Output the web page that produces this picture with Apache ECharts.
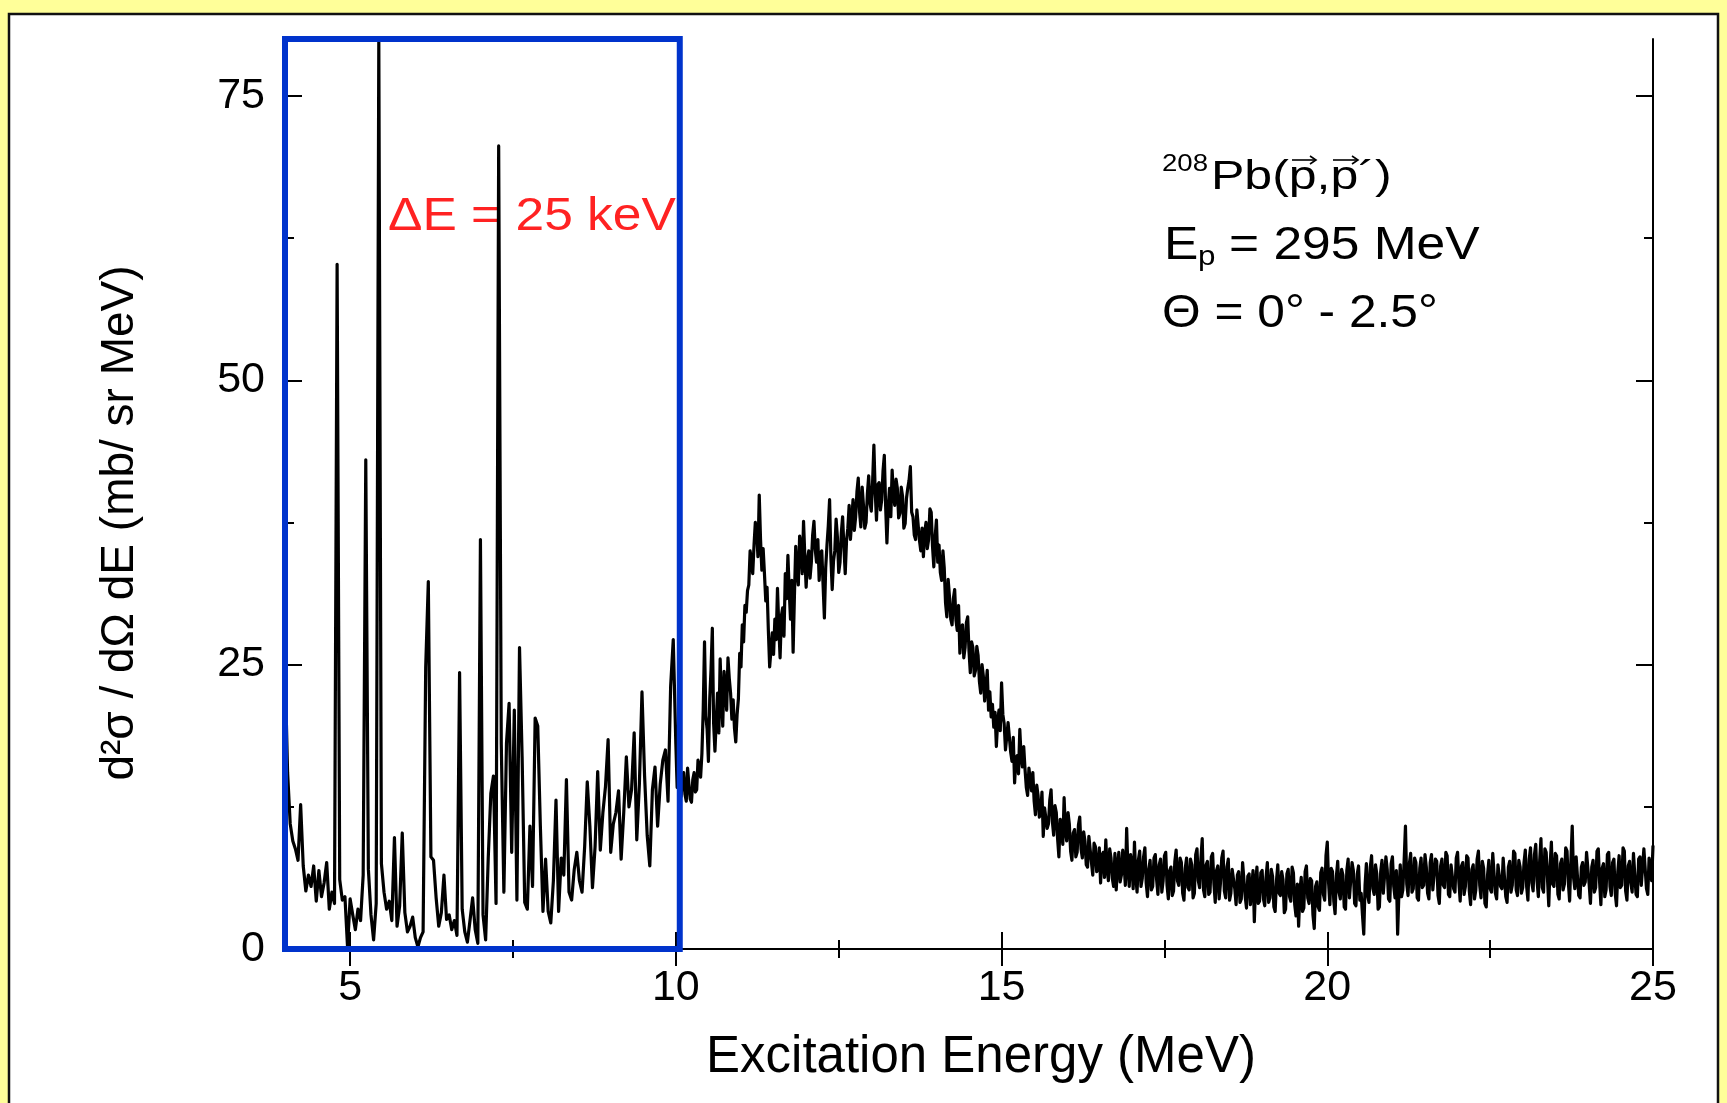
<!DOCTYPE html>
<html><head><meta charset="utf-8">
<script src="https://cdn.jsdelivr.net/npm/echarts@6/dist/echarts.min.js"></script>
<style>html,body{margin:0;padding:0;background:#FFFF99;} #c{width:1727px;height:1103px;}</style>
</head><body><div id="c"></div>
<script>
// ---- Data ----
// Discrete-state region: bins of 0.04 MeV starting at 4.00 MeV (one array per MeV).
const lowStart = 4.0;
const lowStep = 0.04;
const cs04 = [25,15.5,11,9.5,8.8,7.8,12.7,7.3,5.1,6.5,5.5,7.3,4.2,6.9,4.6,5.8,7.6,3.5,5.0,4.0,60.2,6.1,4.3,4.6,0.2];
const cs05 = [4.4,3.0,1.7,3.5,2.5,6.5,43,7.0,3.0,0.8,4.0,80,7.5,5.0,3.5,4.2,2.5,9.8,2.0,3.8,10.2,3.2,1.5,2.0,2.8];
const cs06 = [1.0,0.2,1.0,1.5,24.8,32.3,8.1,7.8,4.5,2.0,3.2,6.5,2.6,3.0,1.7,2.5,1.2,24.3,3.5,1.5,0.6,2.5,4.5,1.7,0.5];
const cs07 = [36,3.0,0.8,8.0,13.7,15.2,4.0,70.6,18,5.0,18.1,21.6,8.5,21.0,4.3,26.5,16.9,4.1,3.5,10.8,5.5,20.3,19.6,10.8,3.3];
const cs08 = [7.9,3.3,2.3,6.0,13.1,3.3,8.0,6.5,14.9,5.0,4.3,7.0,8.5,6.0,5.0,9.0,14.7,10.8,5.4,9.0,15.6,8.7,12.0,14.3,18.4];
const cs09 = [8.5,11.0,12.0,13.9,7.9,12.0,16.9,12.5,14.0,19.0,9.6,14.5,22.6,15.2,10.0,7.3,14.0,16.0,10.8,14.5,16.6,17.5,13.0,23.1,27.2];

// Continuum region: bins of 0.02 MeV starting at 10.00 MeV (one array per MeV).
const highStart = 10.0;
const highStep = 0.02;
const cs10 = [18,14.2,15.0,16.4,13.4,14.8,15.5,13.6,13.0,15.9,14.5,13.2,12.9,14.9,15.5,13.8,14.0,16.6,16.0,15.1,17.2,21.0,27.0,20.5,19.3,16.5,22.0,24.6,28.2,19.8,17.4,20.1,22.5,19.0,25.5,21.8,19.6,24.4,23.0,21.0,25.6,23.8,22.5,20.2,21.9,19.4,18.2,20.6,22.0,26.0];
const cs11 = [24.8,28.5,27.0,30.2,29.6,31.5,32.0,35.0,34.2,33.0,35.5,37.5,36.8,34.5,39.9,36.0,33.3,35.2,33.0,30.6,31.8,28.0,24.8,26.3,27.8,25.9,29.0,27.2,31.7,28.4,25.6,29.3,30.0,27.5,33.0,30.8,34.6,31.5,29.0,32.4,26.1,31.0,35.4,33.2,32.0,36.3,35.5,33.0,37.6,34.5];
const cs12 = [31.8,34.2,35.0,32.6,34.0,36.4,37.6,35.1,34.0,36.0,32.4,34.8,35.0,32.0,29.1,33.5,35.5,37.2,39.5,34.4,31.6,34.1,35.0,37.8,36.2,33.1,34.0,36.6,38.0,35.3,33.0,35.9,37.0,39.0,36.0,37.7,39.5,36.8,38.0,40.2,41.4,38.4,37.1,40.6,39.0,37.0,37.5,40.0,41.6,39.2];
const cs13 = [38.5,41.0,44.3,40.2,37.7,40.8,41.0,38.6,39.5,42.0,43.4,39.0,35.7,38.8,40.5,38.0,42.1,40.0,39.0,41.3,40.5,37.9,38.3,40.6,39.8,37.0,37.4,39.6,40.5,41.2,42.4,38.4,38.0,36.4,36.0,38.6,38.5,35.9,35.0,37.0,34.5,36.6,37.5,35.2,36.0,38.7,38.4,35.4,33.6,36.2];
const cs14 = [37.7,34.0,35.5,33.1,32.4,35.0,33.5,30.4,29.2,32.5,31.0,29.0,28.5,30.8,31.6,28.9,28.0,30.2,26.0,28.3,28.5,25.6,26.5,28.7,29.2,26.2,24.3,27.0,26.5,24.0,24.5,26.6,25.8,23.5,22.5,25.0,24.0,21.8,23.1,24.5,21.0,22.6,20.4,21.5,19.5,20.8,17.8,20.0,21.0,19.2];
const cs15 = [23.4,20.6,19.8,17.5,18.7,19.9,20.0,17.3,16.5,18.6,14.6,16.8,17.0,15.4,19.3,16.9,16.0,17.8,15.8,14.2,13.5,15.9,16.0,13.9,15.5,13.0,11.8,14.4,13.5,11.6,12.0,13.8,9.9,12.4,12.5,10.6,11.0,13.1,14.0,11.2,10.0,12.6,12.0,9.7,8.1,11.4,10.5,9.2,13.3,10.4];
const cs16 = [9.5,12.0,11.0,8.6,7.8,10.2,10.5,8.1,8.5,10.9,11.6,8.8,8.0,10.3,9.5,7.4,7.2,9.9,9.8,7.6,6.5,9.3,9.0,6.8,7.0,8.9,5.8,8.2,8.5,6.3,9.6,7.1,6.0,8.8,8.0,6.2,5.5,8.4,5.2,7.3,8.5,5.9,6.5,8.7,7.5,5.6,10.6,7.0,5.5,8.3];
const cs17 = [7.5,5.3,9.4,6.4,5.0,7.8,8.6,5.5,6.2,8.1,8.9,5.8,4.6,7.0,7.8,5.2,5.5,8.0,8.3,6.1,4.8,7.4,7.9,5.0,6.0,8.2,8.5,5.6,4.4,6.9,7.2,4.7,5.1,7.7,8.7,6.0,5.6,8.0,7.6,4.9,4.3,7.1,8.0,5.4,5.2,7.9,7.4,4.5,4.9,8.3];
const cs18 = [8.8,6.0,5.4,7.9,9.7,5.2,4.6,7.4,7.7,4.8,5.0,8.1,8.4,5.7,4.1,6.9,7.3,4.4,5.8,8.0,8.6,5.1,4.5,7.2,7.9,4.3,4.9,7.0,7.1,5.3,3.9,6.5,6.8,4.1,4.4,7.6,7.5,4.6,3.6,6.4,6.6,3.9,4.0,6.9,2.4,5.8,7.2,4.0,4.2,6.7];
const cs19 = [6.9,4.4,3.8,6.3,7.6,4.1,4.5,7.0,6.4,3.7,3.3,6.0,7.4,4.9,4.7,6.8,6.1,3.2,3.5,6.6,7.0,4.6,4.2,7.2,6.7,3.9,2.9,5.7,2.0,5.1,6.3,3.3,3.6,6.8,7.3,4.5,4.0,6.2,6.0,3.0,1.8,5.5,5.9,3.7,3.4,6.7,7.1,4.8,4.3,8.2];
const cs20 = [9.4,5.8,3.9,7.1,6.8,4.2,3.1,6.4,7.7,5.0,4.4,7.0,6.5,3.7,3.5,6.9,7.9,4.5,4.6,7.6,6.9,4.0,3.8,6.6,7.3,4.3,4.9,3.0,1.3,5.6,7.5,4.7,4.1,7.2,8.2,5.3,4.8,7.4,6.6,3.5,3.7,6.8,7.8,4.9,5.0,8.1,7.0,4.4,4.2,7.5];
const cs21 = [8.1,5.5,4.5,6.9,1.3,5.0,7.4,4.6,5.2,7.8,10.8,5.7,4.7,7.5,8.4,5.0,5.3,8.0,7.6,4.5,4.3,7.1,8.0,5.4,5.6,8.3,7.2,4.9,4.4,7.6,8.3,5.2,5.1,7.9,7.7,4.7,4.0,7.3,7.9,5.6,5.4,8.5,8.2,4.8,4.6,7.4,7.3,5.3,5.0,8.0];
const cs22 = [8.5,5.9,4.2,7.3,7.6,4.8,5.5,8.2,8.0,5.1,3.9,7.0,7.4,4.4,5.2,7.9,8.6,5.6,4.5,7.7,7.1,4.0,3.7,6.5,7.8,5.3,5.0,8.4,8.3,4.9,4.4,7.4,7.5,5.5,5.3,8.0,8.1,4.6,4.1,7.2,7.7,5.0,5.6,8.6,8.4,5.2,4.7,7.8,7.2,4.9];
const cs23 = [5.4,7.6,8.7,5.5,4.3,7.9,8.9,5.8,5.1,8.3,9.2,6.0,4.6,7.7,9.7,5.4,5.0,8.8,8.5,6.2,3.8,7.3,9.4,5.7,5.5,8.4,8.2,4.8,4.4,7.5,7.9,5.2,5.7,8.9,8.6,5.9,4.2,7.8,10.8,6.3,5.3,8.1,8.0,4.7,4.5,7.2,7.6,5.6,5.9,8.5];
const cs24 = [8.4,5.7,4.0,7.2,7.8,5.0,5.4,8.6,8.8,5.9,3.9,7.1,7.5,4.6,5.2,8.3,8.5,5.5,4.7,7.6,7.9,4.9,3.8,6.8,8.2,5.4,5.6,8.9,8.6,5.1,4.3,7.3,7.7,5.8,5.0,8.4,8.3,4.8,4.6,7.9,8.1,5.6,5.5,8.8,8.7,5.3,4.8,8.0,7.9,6.0];
const cs25 = [9.1];

// Highlight box (blue) in data space
const boxEnergy = [4.0, 10.06];
const boxCross = [0, 80];

// Axis ticks / labels
const xMajorTicks = [5, 10, 15, 20, 25];
const xMinorTicks = [7.5, 12.5, 17.5, 22.5];
const yMajorTicks = [0, 25, 50, 75];
const yMinorTicks = [12.5, 37.5, 62.5];

// ---- Build ----
const spectrum = [];
function addSegment(start, step, rows) {
  let k = 0;
  rows.forEach(r => r.forEach(v => {
    spectrum.push([+(start + k * step).toFixed(2), v]);
    k++;
  }));
}
addSegment(lowStart, lowStep, [cs04, cs05, cs06, cs07, cs08, cs09]);
addSegment(highStart, highStep, [cs10, cs11, cs12, cs13, cs14, cs15, cs16, cs17, cs18, cs19, cs20, cs21, cs22, cs23, cs24, cs25]);

const box = [
  [boxEnergy[0], boxCross[0]], [boxEnergy[1], boxCross[0]],
  [boxEnergy[1], boxCross[1]], [boxEnergy[0], boxCross[1]], [boxEnergy[0], boxCross[0]]
];

const FONT = '"Liberation Sans", Arial, sans-serif';
const lbl = { fontSize: 43, color: '#000', fontFamily: FONT };
function xAx(pos, ticks, len, showLine, extra) {
  return Object.assign({
    type: 'value', min: 4, max: 25, position: pos, splitLine: { show: false },
    axisLine: { show: showLine, lineStyle: { color: '#000', width: 2 } },
    axisTick: { show: true, inside: true, length: len, customValues: ticks, lineStyle: { color: '#000', width: 2 } },
    axisLabel: { show: false }
  }, extra || {});
}
function yAx(pos, ticks, len, showLine, extra) {
  return Object.assign({
    type: 'value', min: 0, max: 80, position: pos, splitLine: { show: false },
    axisLine: { show: showLine, lineStyle: { color: '#000', width: 2 } },
    axisTick: { show: true, inside: true, length: len, customValues: ticks, lineStyle: { color: '#000', width: 2 } },
    axisLabel: { show: false }
  }, extra || {});
}

const chart = echarts.init(document.getElementById('c'), null, { renderer: 'canvas' });
chart.setOption({
  animation: false,
  backgroundColor: '#FFFF99',
  grid: { left: 285, right: 74, top: 39, bottom: 154, containLabel: false },
  xAxis: [
    xAx('bottom', xMajorTicks, 17, true, {
      axisLabel: Object.assign({ show: true, customValues: xMajorTicks, margin: 18 }, lbl),
      name: 'Excitation Energy (MeV)', nameLocation: 'middle', nameGap: 83,
      nameTextStyle: { fontSize: 51, color: '#000', fontFamily: FONT, padding: [0, 0, 0, 24] }
    }),
    xAx('bottom', xMinorTicks, 9, false),
    xAx('top', xMajorTicks, 17, true),
    xAx('top', xMinorTicks, 9, false)
  ],
  yAxis: [
    yAx('left', yMajorTicks, 17, true, {
      axisLabel: Object.assign({ show: true, customValues: yMajorTicks, margin: 20 }, lbl),
      name: 'd\u00B2\u03C3 / d\u03A9 dE (mb/ sr MeV)', nameLocation: 'middle', nameRotate: 90, nameGap: 142,
      nameTextStyle: { fontSize: 46, color: '#000', fontFamily: FONT, padding: [0, 58, 0, 0] }
    }),
    yAx('left', yMinorTicks, 9, false),
    yAx('right', yMajorTicks, 17, true),
    yAx('right', yMinorTicks, 9, false)
  ],
  series: [
    {
      type: 'line', data: spectrum, xAxisIndex: 0, yAxisIndex: 0,
      showSymbol: false, symbol: 'none', clip: true, z: 3,
      lineStyle: { color: '#000', width: 3.2, join: 'round' }
    },
    {
      type: 'line', data: box, xAxisIndex: 0, yAxisIndex: 0,
      showSymbol: false, symbol: 'none', clip: false, z: 5, silent: true,
      lineStyle: { color: '#0033CC', width: 6, join: 'miter', cap: 'square' }
    }
  ],
  graphic: [
    { type: 'rect', z: -10, silent: true, shape: { x: 9, y: 14, width: 1709, height: 1100 },
      style: { fill: '#ffffff', stroke: '#111', lineWidth: 2.5 } },
    { type: 'text', x: 388, y: 217, scaleX: 1.12, z: 1,
      style: { text: '\u0394E = 25 keV', fill: '#FF2222', fontSize: 46, fontFamily: FONT, align: 'left', verticalAlign: 'middle' } },
    { type: 'text', x: 1162, y: 164, scaleX: 1.15, z: 1,
      style: { text: '208', fill: '#000', fontSize: 24, fontFamily: FONT, align: 'left', verticalAlign: 'middle' } },
    { type: 'text', x: 1211, y: 178, scaleX: 1.25, z: 1,
      style: { text: 'Pb(p,p\u00B4)', fill: '#000', fontSize: 40, fontFamily: FONT, align: 'left', verticalAlign: 'middle' } },
    { type: 'polyline', z: 1, shape: { points: [[1292, 160], [1316, 160]] }, style: { stroke: '#000', lineWidth: 1.6, fill: null } },
    { type: 'polyline', z: 1, shape: { points: [[1310, 156], [1316, 160], [1310, 164]] }, style: { stroke: '#000', lineWidth: 1.6, fill: null } },
    { type: 'polyline', z: 1, shape: { points: [[1333, 160], [1358, 160]] }, style: { stroke: '#000', lineWidth: 1.6, fill: null } },
    { type: 'polyline', z: 1, shape: { points: [[1352, 156], [1358, 160], [1352, 164]] }, style: { stroke: '#000', lineWidth: 1.6, fill: null } },
    { type: 'text', x: 1164, y: 246, scaleX: 1.12, z: 1,
      style: { text: 'E', fill: '#000', fontSize: 46, fontFamily: FONT, align: 'left', verticalAlign: 'middle' } },
    { type: 'text', x: 1198, y: 257, scaleX: 1.12, z: 1,
      style: { text: 'p', fill: '#000', fontSize: 28, fontFamily: FONT, align: 'left', verticalAlign: 'middle' } },
    { type: 'text', x: 1229, y: 246, scaleX: 1.12, z: 1,
      style: { text: '= 295 MeV', fill: '#000', fontSize: 46, fontFamily: FONT, align: 'left', verticalAlign: 'middle' } },
    { type: 'text', x: 1162, y: 314, scaleX: 1.08, z: 1,
      style: { text: '\u0398 = 0\u00B0 - 2.5\u00B0', fill: '#000', fontSize: 46, fontFamily: FONT, align: 'left', verticalAlign: 'middle' } }
  ]
});
</script>
</body></html>
